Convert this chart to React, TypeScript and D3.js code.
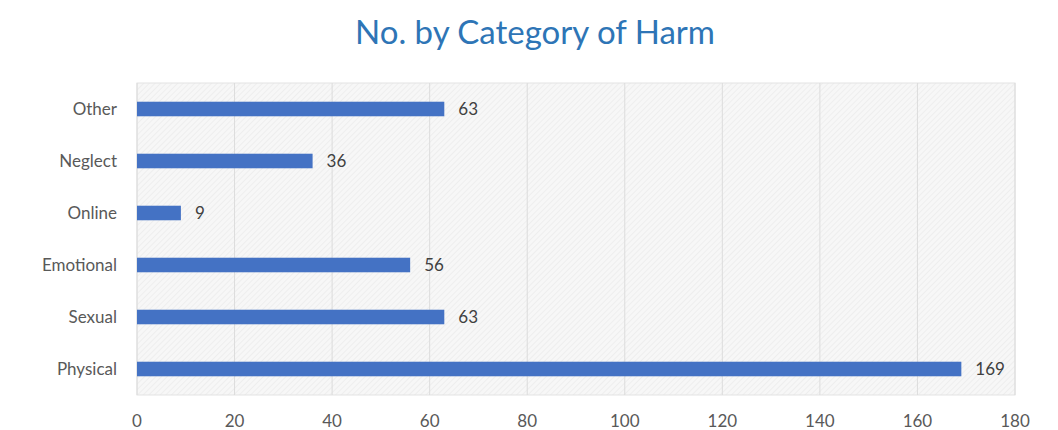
import React from 'react';
import * as d3 from 'd3';

const categories = ['Other', 'Neglect', 'Online', 'Emotional', 'Sexual', 'Physical'];
const values = [63, 36, 9, 56, 63, 169];
const xTicks = [0, 20, 40, 60, 80, 100, 120, 140, 160, 180];

const width = 1058;
const height = 430;
const margin = { top: 83, right: 43, bottom: 35, left: 137 };

const App: React.FC = () => {
  const x = d3.scaleLinear().domain([0, 180]).range([margin.left, width - margin.right]);
  const y = d3.scaleBand()
    .domain(categories)
    .range([margin.top, height - margin.bottom])
    .paddingInner(0.72)
    .paddingOuter(0.36);

  const font = "Lato, 'Open Sans', sans-serif";

  return (
    <svg width={width} height={height} style={{ position: 'absolute', left: 0, top: 0 }}>
      <defs>
        <pattern id="hatch" width="4" height="4" patternUnits="userSpaceOnUse" patternTransform="rotate(45)">
          <rect width="4" height="4" fill="#f7f7f7" />
          <line x1="0" y1="0" x2="0" y2="4" stroke="#e6e6e6" strokeWidth="1" />
        </pattern>
      </defs>
      <rect width={width} height={height} fill="#fff" />
      <text x={535} y={44} textAnchor="middle" fontFamily={font} fontSize={33} fill="#2e75b6">
        No. by Category of Harm
      </text>
      <rect
        x={margin.left}
        y={margin.top}
        width={width - margin.left - margin.right}
        height={height - margin.top - margin.bottom}
        fill="url(#hatch)"
        stroke="#e3e3e3"
      />
      {xTicks.map(t => (
        <line key={t} x1={x(t)} x2={x(t)} y1={margin.top} y2={height - margin.bottom} stroke="#dcdcdc" />
      ))}
      {categories.map((c, i) => (
        <g key={c}>
          <rect
            x={x(0)}
            y={y(c)}
            width={x(values[i]) - x(0)}
            height={y.bandwidth()}
            fill="#4472c4"
          />
          <text
            x={x(values[i]) + 14}
            y={(y(c) || 0) + y.bandwidth() / 2}
            dy="0.35em"
            fontFamily={font}
            fontSize={17}
            fill="#404040"
          >
            {values[i]}
          </text>
          <text
            x={117}
            y={(y(c) || 0) + y.bandwidth() / 2}
            dy="0.35em"
            textAnchor="end"
            fontFamily={font}
            fontSize={17}
            fill="#595959"
          >
            {c}
          </text>
        </g>
      ))}
      {xTicks.map(t => (
        <text key={t} x={x(t)} y={421} dy="0.35em" textAnchor="middle" fontFamily={font} fontSize={17} fill="#595959">
          {t}
        </text>
      ))}
    </svg>
  );
};

export default App;
